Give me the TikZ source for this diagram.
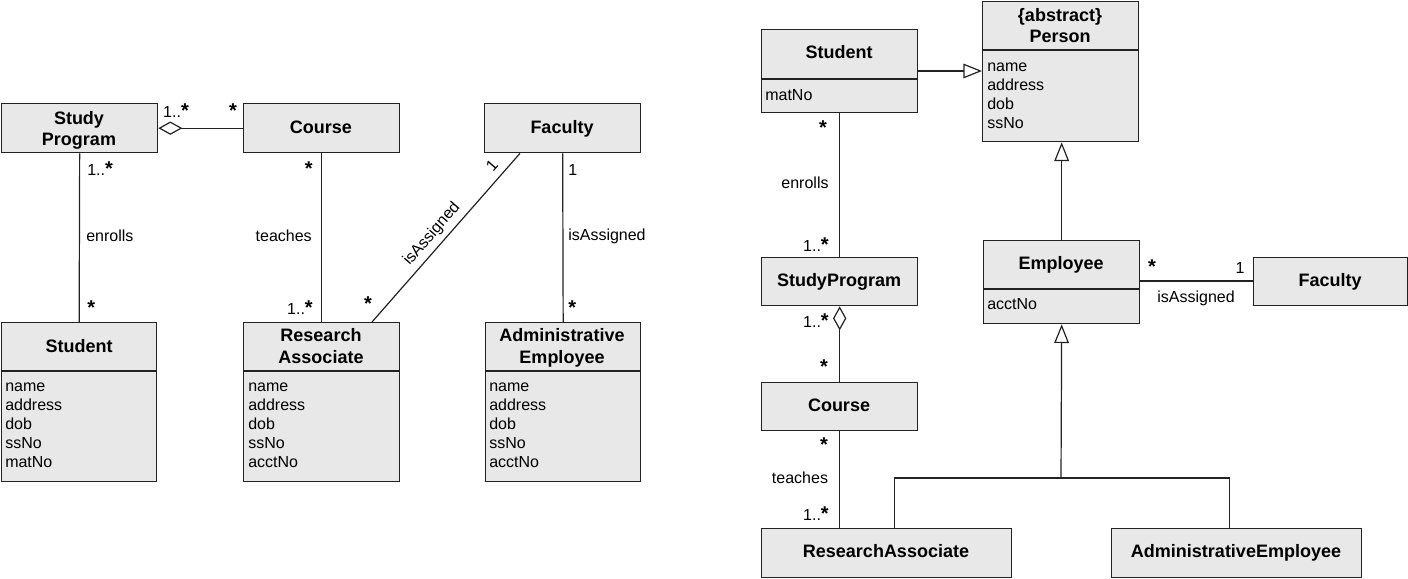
\documentclass[tikz,border=0pt]{standalone}
\usepackage{fontspec}
\setmainfont{Liberation Sans}
\usetikzlibrary{arrows.meta,calc}
\definecolor{boxfill}{HTML}{E8E8E8}
\definecolor{ink}{HTML}{222222}

\tikzset{
  cls/.style={draw=ink, fill=boxfill, line width=1pt, rectangle, inner sep=0pt, anchor=north west},
  title/.style={font=\fontsize{13.5}{16}\selectfont\bfseries, inner sep=0pt, anchor=base},
  attr/.style={font=\fontsize{12}{14}\selectfont, inner sep=0pt, anchor=base west},
  lbl/.style={font=\fontsize{12}{14}\selectfont, inner sep=0pt},
  link/.style={draw=ink, line width=0.9pt},
  gen/.style={link, -{Triangle[open, length=14pt, width=11pt, fill=white]}},
  agg/.style={link, {Diamond[open, length=18pt, width=10pt, fill=white]}-},
}

% class box: name, left, top, right, bottom (pixel grid)
\newcommand\classbox[5]{\node[cls, minimum width={(#4-#2)*0.75pt}, minimum height={(#5-#3)*0.75pt}] (#1) at (#2,#3) {};}
% compartment divider of a class box at a given height
\newcommand\divider[2]{\draw[draw=ink, line width=1pt] (#1.west |- 0,#2) -- (#1.east |- 0,#2);}
% multiplicity star and "1..*"
\newcommand\mstar{{\fontsize{15}{15}\selectfont\bfseries *}}
\newcommand\many{1..\mstar}

\begin{document}
\begin{tikzpicture}[x=0.75pt, y=-0.75pt]
\useasboundingbox (0,0) rectangle (1408,578);

% ---------------- first model ----------------
\classbox{spL}{1}{103}{157}{152}
\classbox{coL}{243}{103}{399}{152}
\classbox{faL}{484}{103}{640}{152}
\classbox{stL}{1}{322}{156}{481}
\classbox{raL}{243}{322}{399}{481}
\classbox{aeL}{485}{322}{640}{481}
\divider{stL}{371}
\divider{raL}{371}
\divider{aeL}{371}

\node[title] (spLt1) at (79,124.5) {Study};
\node[title] (spLt2) at (79,145.5) {Program};
\node[title] (coLt) at (321,133.5) {Course};
\node[title] (faLt) at (562,133.5) {Faculty};
\node[title] (stLt) at (79,352.5) {Student};
\node[title] (raLt1) at (321,341.5) {Research};
\node[title] (raLt2) at (321,363) {Associate};
\node[title] (aeLt1) at (562,341.5) {Administrative};
\node[title] (aeLt2) at (562,363) {Employee};

\foreach \t [count=\i] in {name,address,dob,ssNo,matNo}
  \node[attr] (stLa\i) at (5,{391.5+19*(\i-1)}) {\t};
\foreach \t [count=\i] in {name,address,dob,ssNo,acctNo}
  \node[attr] (raLa\i) at (248,{391.5+19*(\i-1)}) {\t};
\foreach \t [count=\i] in {name,address,dob,ssNo,acctNo}
  \node[attr] (aeLa\i) at (489,{391.5+19*(\i-1)}) {\t};

% associations
\draw[agg] (spL.east) -- (coL.west);
\draw[link] (spL.south) -- (stL.north);
\draw[link] (coL.south) -- (raL.north);
\draw[link] (faL.south -| 520,0) -- (raL.north -| 372,0);
\draw[link] (faL.south) -- (aeL.north);

\node[lbl] (m1) at (176,111) {\many};
\node[lbl] (m2) at (233,111) {\mstar};
\node[lbl, anchor=west] (m3) at (87,169) {\many};
\node[lbl, anchor=west] (n1) at (86,236) {enrolls};
\node[lbl, anchor=west] (m4) at (87,308) {\mstar};
\node[lbl, anchor=east] (m5) at (313,169) {\mstar};
\node[lbl, anchor=east] (n2) at (312,236) {teaches};
\node[lbl, anchor=east] (m6) at (313,308) {\many};
\node[lbl, rotate=49] (m7) at (492,166) {1};
\node[lbl, rotate=49] (n3) at (432,234) {isAssigned};
\node[lbl] (m8) at (368,304) {\mstar};
\node[lbl, anchor=west] (m9) at (568,170) {1};
\node[lbl, anchor=west] (n4) at (568,236) {isAssigned};
\node[lbl, anchor=west] (m10) at (568,308) {\mstar};

% ---------------- second model ----------------
\classbox{stR}{761}{29}{917}{112}
\classbox{peR}{982}{1}{1138}{141}
\classbox{emR}{983}{240}{1139}{323}
\classbox{spR}{761}{257}{917}{305}
\classbox{faR}{1253}{257}{1407}{305}
\classbox{coR}{761}{382}{917}{430}
\classbox{raR}{761}{528}{1011}{577}
\classbox{aeR}{1111}{528}{1361}{577}
\divider{stR}{79}
\divider{peR}{50}
\divider{emR}{289}

\node[title] (stRt) at (839,58.5) {Student};
\node[title] (peRt1) at (1060,21.5) {\{abstract\}};
\node[title] (peRt2) at (1060,42.5) {Person};
\node[title] (emRt) at (1061,269.5) {Employee};
\node[title] (spRt) at (839,286.5) {StudyProgram};
\node[title] (faRt) at (1330,286.5) {Faculty};
\node[title] (coRt) at (839,411.5) {Course};
\node[title] (raRt) at (886,557.5) {ResearchAssociate};
\node[title] (aeRt) at (1236,557.5) {AdministrativeEmployee};

\node[attr] (stRa) at (765,100) {matNo};
\foreach \t [count=\i] in {name,address,dob,ssNo}
  \node[attr] (peRa\i) at (987,{71+19*(\i-1)}) {\t};
\node[attr] (emRa) at (987,309.5) {acctNo};

% generalisations
\draw[gen] (stR.east |- 0,71) -- (peR.west |- 0,71);
\draw[gen] (emR.north) -- (emR.north |- peR.south);
\coordinate (junc) at (1061,478);
\draw[gen] (junc) -- (emR.south);
\draw[link] ([xshift=6pt]raR.north) |- (junc) -| ([xshift=-5.6pt]aeR.north);

% associations
\draw[link] (stR.south) -- (spR.north);
\draw[agg] (spR.south) -- (coR.north);
\draw[link] (coR.south) -- (coR.south |- raR.north);
\draw[link] (emR.east |- 0,281) -- (faR.west |- 0,281);

\node[lbl] (r1) at (823,128) {\mstar};
\node[lbl] (r2) at (805,183) {enrolls};
\node[lbl, anchor=east] (r3) at (829,245) {\many};
\node[lbl, anchor=east] (r4) at (829,321) {\many};
\node[lbl] (r5) at (824,367) {\mstar};
\node[lbl] (r6) at (824,445) {\mstar};
\node[lbl] (r7) at (800,478) {teaches};
\node[lbl, anchor=east] (r8) at (829,514) {\many};
\node[lbl] (r9) at (1152,267) {\mstar};
\node[lbl] (r10) at (1240,268) {1};
\node[lbl] (r11) at (1196,298) {isAssigned};
\end{tikzpicture}
\end{document}
